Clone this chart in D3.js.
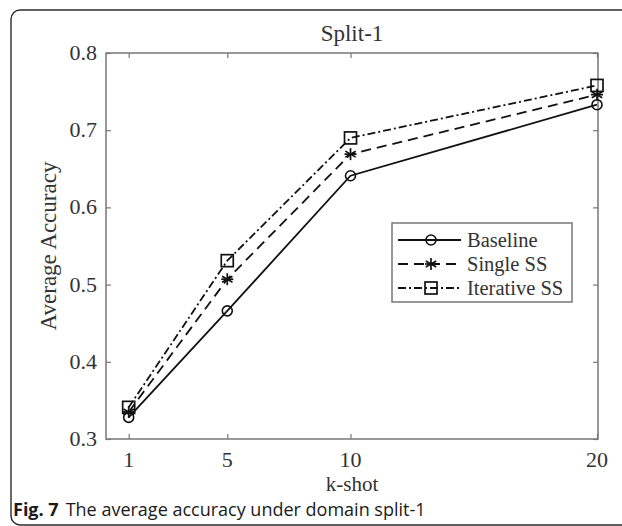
<!DOCTYPE html>
<html>
<head>
<meta charset="utf-8">
<script src="https://cdn.jsdelivr.net/npm/d3@7"></script>
<style>
  body { margin: 0; background: #fff; }
  svg text { fill: #333; }
</style>
</head>
<body>
<svg id="chart" width="622" height="526"></svg>
<script>
// data
var shots = [1, 5, 10, 20];
var baseline = [0.328, 0.466, 0.641, 0.733];
var singleSS = [0.335, 0.507, 0.669, 0.746];
var iterativeSS = [0.341, 0.531, 0.690, 0.758];
var seriesNames = ["Baseline", "Single SS", "Iterative SS"];
var yTicks = [0.3, 0.4, 0.5, 0.6, 0.7, 0.8];

var svg = d3.select("#chart");

// outer frame with rounded corners
svg.append("rect")
  .attr("x", 11).attr("y", 10)
  .attr("width", 660).attr("height", 515)
  .attr("rx", 9)
  .attr("fill", "none")
  .attr("stroke", "#2b2b2b")
  .attr("stroke-width", 1.4);

var pLeft = 106, pRight = 598, pTop = 53, pBottom = 439;

var x = d3.scaleLinear().domain([0.08, 20.04]).range([pLeft, pRight]);
var y = d3.scaleLinear().domain([0.3, 0.8]).range([pBottom, pTop]);

var axisColor = "#777";
var serif = "'Liberation Serif', 'Times New Roman', serif";

// ticks (inward, all four sides)
var g = svg.append("g");
function styleAxis(sel) {
  sel.select(".domain").remove();
  sel.selectAll(".tick line").attr("stroke", axisColor).attr("stroke-width", 1.2);
  sel.selectAll("text").remove();
}
g.append("g").attr("transform", "translate(0," + pBottom + ")")
  .call(d3.axisBottom(x).tickValues(shots).tickSizeInner(-5).tickSizeOuter(0)).call(styleAxis);
g.append("g").attr("transform", "translate(0," + pTop + ")")
  .call(d3.axisTop(x).tickValues(shots).tickSizeInner(-5).tickSizeOuter(0)).call(styleAxis);
g.append("g").attr("transform", "translate(" + pLeft + ",0)")
  .call(d3.axisLeft(y).tickValues(yTicks).tickSizeInner(-5).tickSizeOuter(0)).call(styleAxis);
g.append("g").attr("transform", "translate(" + pRight + ",0)")
  .call(d3.axisRight(y).tickValues(yTicks).tickSizeInner(-5).tickSizeOuter(0)).call(styleAxis);

// box
svg.append("rect")
  .attr("x", pLeft).attr("y", pTop)
  .attr("width", pRight - pLeft).attr("height", pBottom - pTop)
  .attr("fill", "none").attr("stroke", axisColor).attr("stroke-width", 1.5);

// tick labels
svg.selectAll(".xl").data(shots).enter().append("text")
  .attr("x", function(d) { return x(d); })
  .attr("y", 467)
  .attr("text-anchor", "middle")
  .style("font-family", serif).style("font-size", "22px")
  .text(function(d) { return d; });

svg.selectAll(".yl").data(yTicks).enter().append("text")
  .attr("x", 97)
  .attr("y", function(d) { return y(d) + 7; })
  .attr("text-anchor", "end")
  .style("font-family", serif).style("font-size", "22px")
  .text(d3.format(".1f"));

// axis titles
svg.append("text")
  .attr("x", (pLeft + pRight) / 2).attr("y", 491)
  .attr("text-anchor", "middle")
  .style("font-family", serif).style("font-size", "21px")
  .text("k-shot");

svg.append("text")
  .attr("transform", "translate(56," + ((pTop + pBottom) / 2) + ") rotate(-90)")
  .attr("text-anchor", "middle")
  .style("font-family", serif).style("font-size", "23px")
  .text("Average Accuracy");

svg.append("text")
  .attr("x", (pLeft + pRight) / 2).attr("y", 41)
  .attr("text-anchor", "middle")
  .style("font-family", serif).style("font-size", "23px")
  .text("Split-1");

// series
var series = [
  { name: seriesNames[0], values: baseline, dash: null, marker: "circle" },
  { name: seriesNames[1], values: singleSS, dash: "10,6", marker: "star" },
  { name: seriesNames[2], values: iterativeSS, dash: "8,3,2,3", marker: "square" }
];

var line = d3.line()
  .x(function(d, i) { return x(shots[i]); })
  .y(function(d) { return y(d); });

function drawMarker(sel, type) {
  if (type === "circle") {
    sel.append("circle").attr("r", 5)
      .attr("fill", "none").attr("stroke", "#111").attr("stroke-width", 1.6);
  } else if (type === "square") {
    sel.append("rect").attr("x", -6).attr("y", -6).attr("width", 12).attr("height", 12)
      .attr("fill", "none").attr("stroke", "#111").attr("stroke-width", 1.7);
  } else {
    [0, 60, 120].forEach(function(a) {
      sel.append("line")
        .attr("x1", -6).attr("x2", 6).attr("y1", 0).attr("y2", 0)
        .attr("transform", "rotate(" + (a + 90) + ")")
        .attr("stroke", "#111").attr("stroke-width", 1.7);
    });
    sel.append("line").attr("x1", -6).attr("x2", 6)
      .attr("stroke", "#111").attr("stroke-width", 1.7);
  }
}

series.forEach(function(s) {
  svg.append("path")
    .datum(s.values)
    .attr("d", line)
    .attr("fill", "none")
    .attr("stroke", "#111")
    .attr("stroke-width", 1.8)
    .attr("stroke-dasharray", s.dash);

  svg.selectAll(null).data(s.values).enter().append("g")
    .attr("transform", function(d, i) { return "translate(" + x(shots[i]) + "," + y(d) + ")"; })
    .each(function() { drawMarker(d3.select(this), s.marker); });
});

// legend
var legend = svg.append("g");
legend.append("rect")
  .attr("x", 392).attr("y", 223).attr("width", 180).attr("height", 79)
  .attr("fill", "#fff").attr("stroke", axisColor).attr("stroke-width", 1.5);

var rows = legend.selectAll(".row").data(series).enter().append("g")
  .attr("transform", function(d, i) { return "translate(0," + (240 + i * 24) + ")"; });

rows.append("line")
  .attr("x1", 398).attr("x2", 461)
  .attr("stroke", "#111").attr("stroke-width", 1.8)
  .attr("stroke-dasharray", function(d) { return d.dash; });

rows.append("g").attr("transform", "translate(431,0)")
  .each(function(d) { drawMarker(d3.select(this), d.marker); });

rows.append("text")
  .attr("x", 467).attr("y", 7)
  .style("font-family", serif).style("font-size", "20.5px")
  .text(function(d) { return d.name; });

// caption
var cap = svg.append("text")
  .attr("x", 13).attr("y", 515.5)
  .style("font-family", "'Open Sans', 'Noto Sans', sans-serif").style("font-size", "18px")
  .style("fill", "#1a1a1a");
cap.append("tspan").style("font-weight", "bold").text("Fig. 7");
cap.append("tspan").attr("dx", 7).text("The average accuracy under domain split-1");
</script>
</body>
</html>
